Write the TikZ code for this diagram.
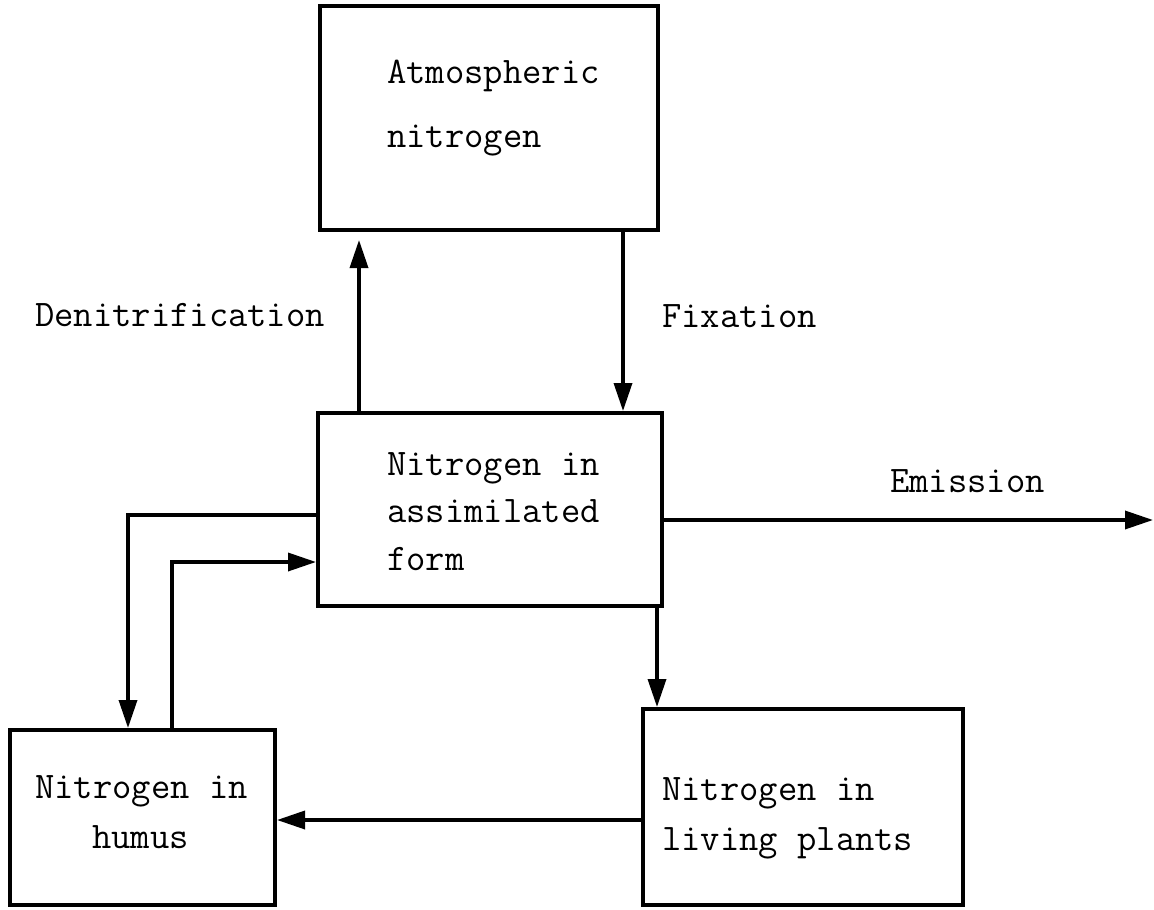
\documentclass[tikz,border=0pt]{standalone}
\usetikzlibrary{arrows.meta}
\begin{document}
\begin{tikzpicture}[x=1pt,y=-1pt,
  box/.style={draw,line width=4pt,inner sep=0pt},
  lbl/.style={anchor=base west,inner sep=0pt,font=\ttfamily\fontsize{37.5}{45}\selectfont},
  arr/.style={line width=3.5pt,-{Triangle[length=28pt,width=18pt]}}]
\useasboundingbox (0,0) rectangle (1154,910);
% boxes
\node[box,minimum width=338pt,minimum height=224pt] (atm) at (489,118) {};
\node[box,minimum width=344pt,minimum height=193pt] (mid) at (490,509.5) {};
\node[box,minimum width=265pt,minimum height=175pt] (hum) at (142.5,817.5) {};
\node[box,minimum width=320pt,minimum height=196pt] (pla) at (803,807) {};
% texts
\node[lbl] (t1) at (387,83) {Atmospheric};
\node[lbl] (t2) at (387,147) {nitrogen};
\node[lbl] (t3) at (35,326) {Denitrification};
\node[lbl] (t4) at (662,327) {Fixation};
\node[lbl] (t5) at (387,475) {Nitrogen in};
\node[lbl] (t6) at (387,522) {assimilated};
\node[lbl] (t7) at (387,570) {form};
\node[lbl] (t8) at (890,492) {Emission};
\node[lbl] (t9) at (35,798) {Nitrogen in};
\node[lbl] (t10) at (92,848) {humus};
\node[lbl] (t11) at (662,800) {Nitrogen in};
\node[lbl] (t12) at (662,850) {living plants};
% helper coordinates
\coordinate (cd) at (359,0);
\coordinate (cf) at (623,0);
\coordinate (ce) at (1153,520);
\coordinate (cp) at (657,0);
\coordinate (ch) at (0,820);
\coordinate (ca) at (128,515);
\coordinate (cb) at (172,562);
% connectors
\draw[arr,shorten >=8pt] (mid.north -| cd) -- (atm.south -| cd);
\draw[arr] (atm.south -| cf) -- (mid.north -| cf);
\draw[arr] (mid.east |- ce) -- (ce);
\draw[arr] (mid.south -| cp) -- (pla.north -| cp);
\draw[arr] (pla.west |- ch) -- (hum.east |- ch);
\draw[arr] (mid.west |- ca) -| (hum.north -| ca);
\draw[arr] (hum.north -| cb) |- (mid.west |- cb);
\end{tikzpicture}
\end{document}
